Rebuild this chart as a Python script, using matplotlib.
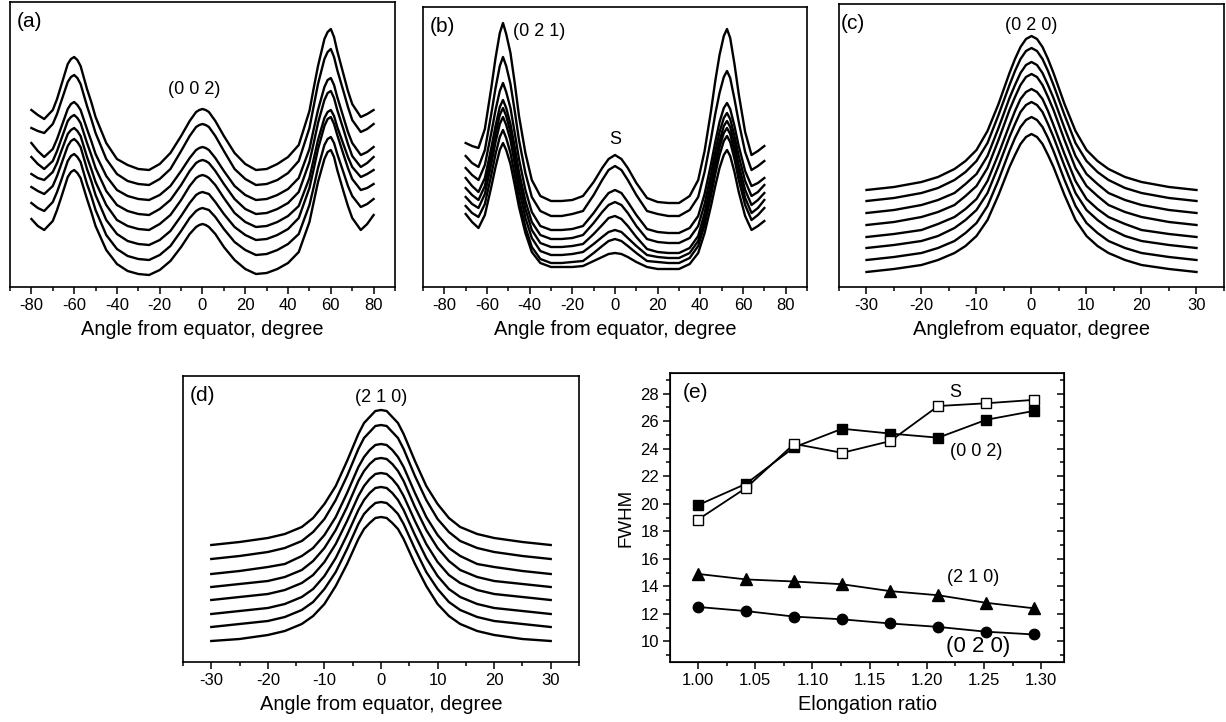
import matplotlib
matplotlib.use("Agg")
import matplotlib.pyplot as plt
from matplotlib.ticker import MultipleLocator, FormatStrFormatter

plt.rcParams['font.family'] = ['Liberation Sans', 'DejaVu Sans']
plt.rcParams['axes.unicode_minus'] = False

# azimuthal intensity profiles, already stacked (arb. units), top curve first

# (a) (0 0 2)
angle_a = [-80, -77, -74, -70, -68, -66, -63, -61.5, -60, -58.5, -57, -54, -52, -50, -45, -40, -35,
           -30, -25, -20, -15, -10, -6, -3, -1.5, 0, 1.5, 3, 6, 10, 15, 20, 25, 30, 35, 40, 45,
           50, 52, 54, 57, 58.5, 60, 61.5, 63, 66, 68, 70, 74, 77, 80]
profiles_a = [
    [177, 172, 168, 177, 188, 202, 223, 228, 230, 227, 221, 198, 185, 170, 144, 128, 122, 118, 117, 123,
     134, 151, 166, 175, 177, 178, 177, 175, 166, 151, 134, 123, 117, 118, 123, 130, 142, 176, 199, 221,
     248, 255, 258, 250, 236, 212, 196, 183, 170, 173, 177],
    [159, 156, 154, 163, 173, 186, 205, 210, 212, 209, 203, 181, 168, 154, 128, 113, 106, 103, 102, 108,
     118, 136, 151, 160, 162, 163, 162, 160, 151, 136, 118, 108, 102, 103, 107, 114, 126, 159, 181, 203,
     228, 235, 238, 230, 217, 195, 180, 167, 155, 158, 163],
    [144, 136, 130, 138, 148, 160, 178, 183, 185, 182, 177, 158, 146, 133, 111, 97, 91, 88, 87, 92,
     101, 116, 129, 137, 139, 140, 139, 137, 129, 116, 101, 92, 87, 88, 92, 98, 109, 138, 158, 177,
     200, 207, 209, 202, 190, 169, 155, 144, 132, 135, 140],
    [130, 123, 118, 126, 136, 148, 166, 170, 172, 169, 164, 144, 132, 119, 96, 82, 76, 73, 72, 78,
     87, 102, 116, 124, 126, 127, 126, 124, 116, 103, 88, 78, 73, 74, 78, 84, 95, 125, 144, 164,
     187, 194, 196, 189, 177, 157, 143, 131, 120, 124, 130],
    [113, 109, 107, 115, 124, 136, 153, 157, 159, 156, 151, 130, 118, 105, 82, 67, 61, 58, 57, 63,
     72, 87, 101, 109, 111, 112, 111, 109, 102, 89, 74, 65, 60, 61, 65, 71, 81, 109, 128, 147,
     169, 175, 177, 171, 160, 142, 130, 120, 110, 113, 117],
    [100, 96, 93, 101, 111, 123, 141, 146, 148, 145, 140, 118, 106, 92, 67, 53, 46, 43, 42, 47,
     56, 71, 84, 92, 94, 95, 94, 93, 85, 73, 60, 52, 47, 48, 52, 58, 69, 99, 118, 138,
     161, 168, 170, 163, 152, 132, 119, 108, 97, 99, 103],
    [84, 79, 76, 85, 95, 107, 126, 131, 133, 130, 125, 103, 91, 77, 52, 38, 31, 28, 27, 32,
     41, 56, 69, 76, 78, 79, 78, 77, 70, 58, 45, 37, 32, 33, 37, 43, 53, 82, 100, 119,
     142, 148, 150, 144, 133, 114, 101, 91, 80, 83, 88],
    [68, 61, 57, 66, 77, 90, 110, 115, 117, 114, 109, 88, 75, 61, 37, 23, 16, 13, 12, 17,
     26, 40, 53, 60, 62, 63, 62, 60, 53, 40, 27, 18, 13, 14, 18, 24, 35, 65, 85, 105,
     128, 135, 137, 130, 117, 95, 81, 69, 57, 63, 72],
]

# (b) (0 2 1) with the S reflection at the equator
angle_b = [-70, -67, -64, -61, -58, -56, -54, -52.5, -51, -49, -47, -45, -42, -39, -35,
           -30, -25, -20, -15, -10, -6, -3, 0, 3, 6, 10, 15, 20, 25, 30, 35, 39, 42, 45,
           47, 49, 51, 52.5, 54, 56, 58, 61, 64, 67, 70]
profiles_b = [
    [144, 141, 139, 158, 199, 229, 254, 264, 253, 234, 204, 171, 134, 107, 91, 86, 86, 87, 91, 105, 119, 128, 132,
     128, 119, 104, 89, 85, 84, 84, 91, 107, 136, 176, 206, 232, 251, 258, 249, 223, 193, 155, 132, 136, 141],
    [131, 124, 120, 137, 173, 199, 221, 230, 221, 203, 176, 147, 114, 90, 76, 71, 71, 73, 76, 92, 107, 117, 121,
     117, 107, 92, 76, 73, 71, 71, 77, 90, 115, 148, 173, 194, 210, 216, 209, 188, 165, 135, 117, 121, 126],
    [119, 112, 107, 122, 154, 177, 196, 204, 195, 179, 154, 128, 97, 75, 61, 57, 57, 58, 61, 74, 86, 94, 97,
     94, 85, 72, 58, 55, 54, 54, 59, 71, 93, 123, 145, 165, 179, 184, 178, 161, 141, 116, 101, 104, 109],
    [109, 101, 95, 109, 139, 161, 180, 187, 179, 163, 140, 115, 86, 65, 52, 48, 48, 49, 52, 64, 75, 82, 85,
     82, 74, 61, 48, 45, 44, 44, 49, 61, 83, 113, 135, 155, 169, 174, 168, 151, 131, 106, 91, 95, 102],
    [99, 92, 87, 101, 131, 153, 172, 179, 171, 155, 132, 107, 78, 57, 44, 40, 40, 41, 43, 53, 62, 69, 71,
     68, 61, 50, 38, 35, 34, 34, 39, 51, 74, 104, 126, 146, 161, 166, 160, 143, 122, 97, 82, 87, 94],
    [90, 83, 79, 93, 123, 145, 163, 170, 162, 147, 123, 98, 69, 49, 36, 32, 32, 33, 35, 43, 50, 55, 57,
     55, 49, 41, 32, 30, 29, 29, 34, 46, 68, 98, 120, 140, 154, 159, 153, 135, 115, 89, 74, 79, 87],
    [81, 74, 70, 83, 112, 133, 150, 157, 149, 134, 112, 88, 60, 40, 28, 24, 24, 25, 26, 34, 41, 46, 48,
     46, 41, 34, 26, 25, 24, 24, 29, 41, 62, 91, 113, 132, 146, 151, 145, 128, 107, 82, 67, 72, 79],
    [73, 65, 59, 72, 100, 120, 137, 144, 137, 123, 102, 80, 54, 35, 24, 20, 20, 20, 21, 26, 30, 33, 34,
     33, 30, 25, 20, 18, 18, 18, 23, 34, 54, 81, 101, 119, 132, 137, 131, 115, 95, 71, 57, 61, 66],
]

# (c) (0 2 0)
angle_c = [-30, -25, -20, -17, -14, -12, -10, -8, -6, -4, -3, -2, -1, 0,
           1, 2, 3, 4, 6, 8, 10, 12, 14, 17, 20, 25, 30]
profiles_c = [
    [97, 100, 105, 110, 118, 126, 137, 156, 183, 214, 228, 240, 248, 251,
     248, 240, 228, 214, 183, 156, 137, 126, 118, 110, 105, 100, 97],
    [86, 89, 94, 99, 107, 115, 126, 144, 172, 202, 216, 228, 236, 239,
     236, 228, 216, 202, 172, 144, 126, 115, 107, 99, 94, 89, 86],
    [74, 77, 82, 87, 94, 103, 113, 131, 159, 189, 202, 214, 222, 225,
     222, 214, 202, 189, 159, 131, 113, 103, 94, 87, 82, 77, 74],
    [62, 65, 70, 75, 82, 91, 101, 119, 147, 177, 190, 202, 210, 213,
     210, 202, 190, 177, 147, 119, 101, 91, 82, 75, 70, 65, 62],
    [50, 53, 57, 63, 70, 78, 88, 106, 133, 162, 176, 188, 195, 198,
     195, 188, 176, 162, 133, 106, 88, 78, 70, 63, 57, 53, 50],
    [39, 42, 46, 51, 59, 67, 77, 94, 121, 150, 163, 175, 182, 185,
     182, 175, 163, 150, 121, 94, 77, 67, 59, 51, 46, 42, 39],
    [27, 30, 34, 39, 46, 54, 64, 81, 107, 136, 149, 160, 167, 170,
     167, 160, 149, 136, 107, 81, 64, 54, 46, 39, 34, 30, 27],
    [15, 18, 22, 27, 34, 41, 51, 67, 92, 120, 132, 143, 150, 153,
     150, 143, 132, 120, 92, 67, 51, 41, 34, 27, 22, 18, 15],
]

# (d) (2 1 0)
angle_d = [-30, -25, -20, -17, -14, -12, -10, -8, -6, -4, -3, -2, -1, 0,
           1, 2, 3, 4, 6, 8, 10, 12, 14, 17, 20, 25, 30]
profiles_d = [
    [117, 120, 124, 128, 135, 144, 158, 176, 201, 228, 239, 245, 251, 252,
     251, 245, 239, 228, 201, 176, 158, 144, 135, 128, 124, 120, 117],
    [103, 106, 110, 114, 121, 130, 143, 162, 186, 213, 224, 230, 236, 237,
     236, 230, 224, 213, 186, 162, 143, 130, 121, 114, 110, 106, 103],
    [88, 91, 95, 98, 106, 114, 127, 145, 169, 195, 205, 212, 217, 218,
     217, 212, 205, 195, 169, 145, 127, 114, 106, 98, 95, 91, 88],
    [75, 78, 81, 85, 92, 101, 114, 132, 155, 181, 191, 198, 203, 204,
     203, 198, 191, 181, 155, 132, 114, 101, 92, 85, 81, 78, 75],
    [62, 65, 68, 72, 79, 87, 100, 118, 141, 166, 176, 183, 188, 189,
     188, 183, 176, 166, 141, 118, 100, 87, 79, 72, 68, 65, 62],
    [48, 51, 54, 58, 65, 73, 86, 104, 127, 152, 162, 169, 174, 175,
     174, 169, 162, 152, 127, 104, 86, 73, 65, 58, 54, 51, 48],
    [35, 38, 41, 45, 52, 60, 73, 90, 113, 138, 148, 154, 159, 160,
     159, 154, 148, 138, 113, 90, 73, 60, 52, 45, 41, 38, 35],
    [21, 23, 27, 31, 38, 46, 58, 76, 98, 123, 133, 139, 144, 145,
     144, 139, 133, 123, 98, 76, 58, 46, 38, 31, 27, 23, 21],
]

# (e) FWHM vs elongation ratio
elongation = [1.000, 1.042, 1.084, 1.126, 1.168, 1.210, 1.252, 1.294]
fwhm_002 = [19.9, 21.45, 24.1, 25.45, 25.1, 24.8, 26.1, 26.75]
fwhm_S = [18.85, 21.15, 24.35, 23.7, 24.55, 27.1, 27.3, 27.55]
fwhm_210 = [14.9, 14.5, 14.35, 14.15, 13.65, 13.35, 12.8, 12.4]
fwhm_020 = [12.5, 12.2, 11.8, 11.6, 11.3, 11.05, 10.7, 10.5]

W, H = 1226, 722
fig = plt.figure(figsize=(W / 100, H / 100), dpi=100)


def box(l, t, r, b):
    # axes from pixel edges
    return fig.add_axes([l / W, 1 - b / H, (r - l) / W, (b - t) / H])


def profile_panel(ax, x, curves, xlim, ylim, major, minor, xlabel, tag, tag_x=0.018):
    for y in curves:
        ax.plot(x, y, color='black', lw=1.7, solid_joinstyle='round')
    ax.set_xlim(*xlim)
    ax.set_ylim(*ylim)
    ax.set_yticks([])
    ax.xaxis.set_major_locator(MultipleLocator(major))
    ax.xaxis.set_minor_locator(MultipleLocator(minor))
    ax.tick_params(axis='x', which='major', direction='out', length=5, width=1.1,
                   labelsize=12, pad=3)
    ax.tick_params(axis='x', which='minor', direction='out', length=3, width=1.1)
    for s in ax.spines.values():
        s.set_linewidth(1.2)
    ax.set_xlabel(xlabel, fontsize=14.4, labelpad=5)
    ax.text(tag_x, 0.965, tag, transform=ax.transAxes, fontsize=15, va='top', ha='left')


ax_a = box(10, 2, 395, 287)
profile_panel(ax_a, angle_a, profiles_a, (-90, 90), (0, 285), 20, 10,
              'Angle from equator, degree', '(a)')
ax_a.text(-4, 197, '(0 0 2)', fontsize=13, ha='center', va='center')

ax_b = box(423, 7, 807, 287)
profile_panel(ax_b, angle_b, profiles_b, (-90, 90), (0, 280), 20, 10,
              'Angle from equator, degree', '(b)')
ax_b.text(-35.5, 255, '(0 2 1)', fontsize=13, ha='center', va='center')
ax_b.text(0, 147, 'S', fontsize=13, ha='center', va='center')

ax_c = box(839, 4, 1224, 287)
profile_panel(ax_c, angle_c, profiles_c, (-35, 35), (0, 283), 10, 5,
              'Anglefrom equator, degree', '(c)', tag_x=0.005)
ax_c.text(0, 262, '(0 2 0)', fontsize=13, ha='center', va='center')

ax_d = box(183, 376, 579, 662)
profile_panel(ax_d, angle_d, profiles_d, (-35, 35), (0, 286), 10, 5,
              'Angle from equator, degree', '(d)')
ax_d.text(0, 265, '(2 1 0)', fontsize=13, ha='center', va='center')

# (e)
ax_e = box(670, 373, 1064, 662)
mk = dict(color='black', lw=1.3, markeredgecolor='black', markeredgewidth=1.0)
ax_e.plot(elongation, fwhm_002, marker='s', ms=6.5, markerfacecolor='black', **mk)
ax_e.plot(elongation, fwhm_S, marker='s', ms=6.5, markerfacecolor='white', **mk)
ax_e.plot(elongation, fwhm_210, marker='^', ms=8, markerfacecolor='black', **mk)
ax_e.plot(elongation, fwhm_020, marker='o', ms=7.5, markerfacecolor='black', **mk)
ax_e.set_xlim(0.9755, 1.32)
ax_e.set_ylim(8.5, 29.5)
ax_e.xaxis.set_major_locator(MultipleLocator(0.05))
ax_e.xaxis.set_minor_locator(MultipleLocator(0.025))
ax_e.xaxis.set_major_formatter(FormatStrFormatter('%.2f'))
ax_e.yaxis.set_major_locator(MultipleLocator(2))
ax_e.yaxis.set_minor_locator(MultipleLocator(1))
ax_e.tick_params(which='major', direction='out', length=5, width=1.1, labelsize=12, pad=3)
ax_e.tick_params(which='minor', direction='out', length=3, width=1.1)
for s in ax_e.spines.values():
    s.set_linewidth(1.2)
ax_e.set_xlabel('Elongation ratio', fontsize=14.4, labelpad=5)
ax_e.set_ylabel('FWHM', fontsize=13.5, labelpad=4)
ax_e.text(0.033, 0.965, '(e)', transform=ax_e.transAxes, fontsize=15, va='top', ha='left')
ax_e.text(1.2247, 28.1, 'S', fontsize=13, ha='center', va='center')
ax_e.text(1.2436, 23.8, '(0 0 2)', fontsize=13, ha='center', va='center')
ax_e.text(1.2406, 14.64, '(2 1 0)', fontsize=13, ha='center', va='center')
ax_e.text(1.2445, 9.63, '(0 2 0)', fontsize=16, ha='center', va='center')

# inward ticks on the right side of (e)
ax_r = ax_e.twinx()
ax_r.set_ylim(ax_e.get_ylim())
ax_r.yaxis.set_major_locator(MultipleLocator(2))
ax_r.yaxis.set_minor_locator(MultipleLocator(1))
ax_r.tick_params(which='major', direction='in', length=5, width=1.1, labelright=False)
ax_r.tick_params(which='minor', direction='in', length=3, width=1.1)

fig.savefig('out.png', dpi=100)
